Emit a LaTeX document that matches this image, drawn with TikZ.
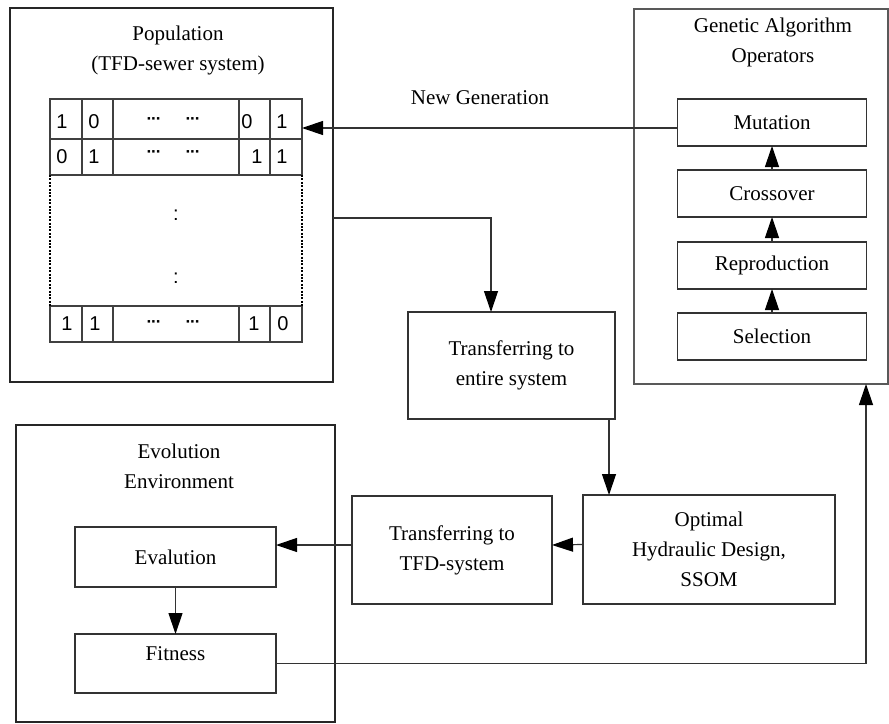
\documentclass[tikz,border=0pt]{standalone}
\usepackage{fontspec}
\setmainfont{Liberation Serif}
\newfontfamily\gridfont{Liberation Sans}
\usepackage{tikz}
\usetikzlibrary{arrows.meta}
\tikzset{
  box/.style={draw=black!80,line width=1.2pt,inner sep=0pt,outer sep=0pt,
    font=\fontsize{21}{30}\selectfont,align=center},
  frame/.style={draw=black!85,line width=2pt,inner sep=0pt,outer sep=0pt},
  thinframe/.style={draw=black!65,line width=1.2pt,inner sep=0pt,outer sep=0pt},
  title/.style={font=\fontsize{21}{30}\selectfont,align=center,inner sep=0pt},
  bit/.style={font=\gridfont\fontsize{20}{20}\selectfont,inner sep=0pt},
  dots/.style={font=\gridfont\bfseries\fontsize{17}{17}\selectfont,inner sep=0pt},
  cell/.style={draw=black!75,line width=1.2pt},
  dotcell/.style={draw=black,line width=2.6pt,dash pattern=on 2pt off 1.4pt},
  flow/.style={draw=black!80,line width=1.2pt,
    -{Triangle[length=21pt,width=14pt,color=black]}},
}

\begin{document}
\begin{tikzpicture}[x=1pt,y=-1pt]
    \useasboundingbox (0,0) rectangle (889,723);

    % containers
    \node[frame,minimum width=323pt,minimum height=374pt] at (171.5,195) (pop) {};
    \node[title] at (178,50) (poptitle) {Population\\(TFD-sewer system)};
    \node[thinframe,minimum width=254pt,minimum height=375pt] at (761,196.5) (ga) {};
    \node[title] at (773,42) (gatitle) {Genetic Algorithm\\Operators};
    \node[frame,minimum width=319pt,minimum height=297pt] at (175.5,573.5) (env) {};
    \node[title] at (179,466) (envtitle) {Evolution\\Environment};

    % chromosome grid
    \foreach \ya/\yb in {99/139,139/175,306/342}{
       \draw[cell] (50,\ya) rectangle (302,\yb);
       \foreach \x in {82,113,239,270} \draw[cell] (\x,\ya)--(\x,\yb);
    }
    \draw[dotcell] (50,175)--(50,306);
    \draw[dotcell] (302,175)--(302,306);
    \foreach \x/\t [count=\i] in {62/1,94/0,247/0,282/1}
       \node[bit] at (\x,122) (ra\i) {\t};
    \foreach \x/\t [count=\i] in {62/0,94/1,257/1,282/1}
       \node[bit] at (\x,157) (rb\i) {\t};
    \foreach \x/\t [count=\i] in {67/1,95/1,254/1,283/0}
       \node[bit] at (\x,324) (rc\i) {\t};
    \foreach \y [count=\i] in {121,154,324}{
       \node[dots] at (154,\y) (dl\i) {\kern-1pt·\kern-1pt·\kern-1pt·\kern-1pt};
       \node[dots] at (193,\y) (dr\i) {\kern-1pt·\kern-1pt·\kern-1pt·\kern-1pt};
    }
    \node[bit] at (176,215) (colA) {:};
    \node[bit] at (176,278) (colB) {:};

    % operators
    \node[box,minimum width=189pt,minimum height=47pt] at (772,122.5) (mut) {Mutation};
    \node[box,minimum width=189pt,minimum height=47pt] at (772,193.5) (cro) {Crossover};
    \node[box,minimum width=189pt,minimum height=47pt] at (772,265.5) (rep) {Reproduction};
    \node[box,minimum width=189pt,minimum height=47pt] at (772,336.5) (sel) {Selection};

    % processing chain
    \node[box,minimum width=207pt,minimum height=107pt] at (511.5,365.5) (ent) {Transferring to\\entire system};
    \node[box,minimum width=252pt,minimum height=109pt] at (709,549.5) (opt) {Optimal\\Hydraulic Design,\\SSOM};
    \node[box,minimum width=200pt,minimum height=108pt] at (452,550) (tfd) {Transferring to\\TFD-system};
    \node[box,minimum width=201pt,minimum height=60pt] at (175.5,557) (eva) {Evalution};
    \node[box,minimum width=201pt,minimum height=59pt,text depth=19pt] at (175.5,663.5) (fit) {Fitness};

    \node[title] at (480,98) (newgen) {New Generation};

    \coordinate (rowA) at (302,128);
    \coordinate (popout) at (333,218);
    \coordinate (entin) at (491,312);
    \coordinate (entout) at (609,419);
    \coordinate (gain) at (866,384);

    \draw[flow] (rowA -| mut.west) -- (rowA);
    \draw[flow] (popout) -| (entin);
    \draw[flow] (entout) -- (entout |- opt.north);
    \draw[flow] ([yshift=5pt]opt.west) -- ([yshift=5pt]tfd.east);
    \draw[flow] ([yshift=5pt]tfd.west) -- ([yshift=5pt]tfd.west -| eva.east);
    \draw[flow] (eva.south) -- (fit.north);
    \draw[flow] (fit.east) -| (gain);
    \draw[flow] (sel.north) -- (rep.south);
    \draw[flow] (rep.north) -- (cro.south);
    \draw[flow] (cro.north) -- (mut.south);
\end{tikzpicture}
\end{document}
